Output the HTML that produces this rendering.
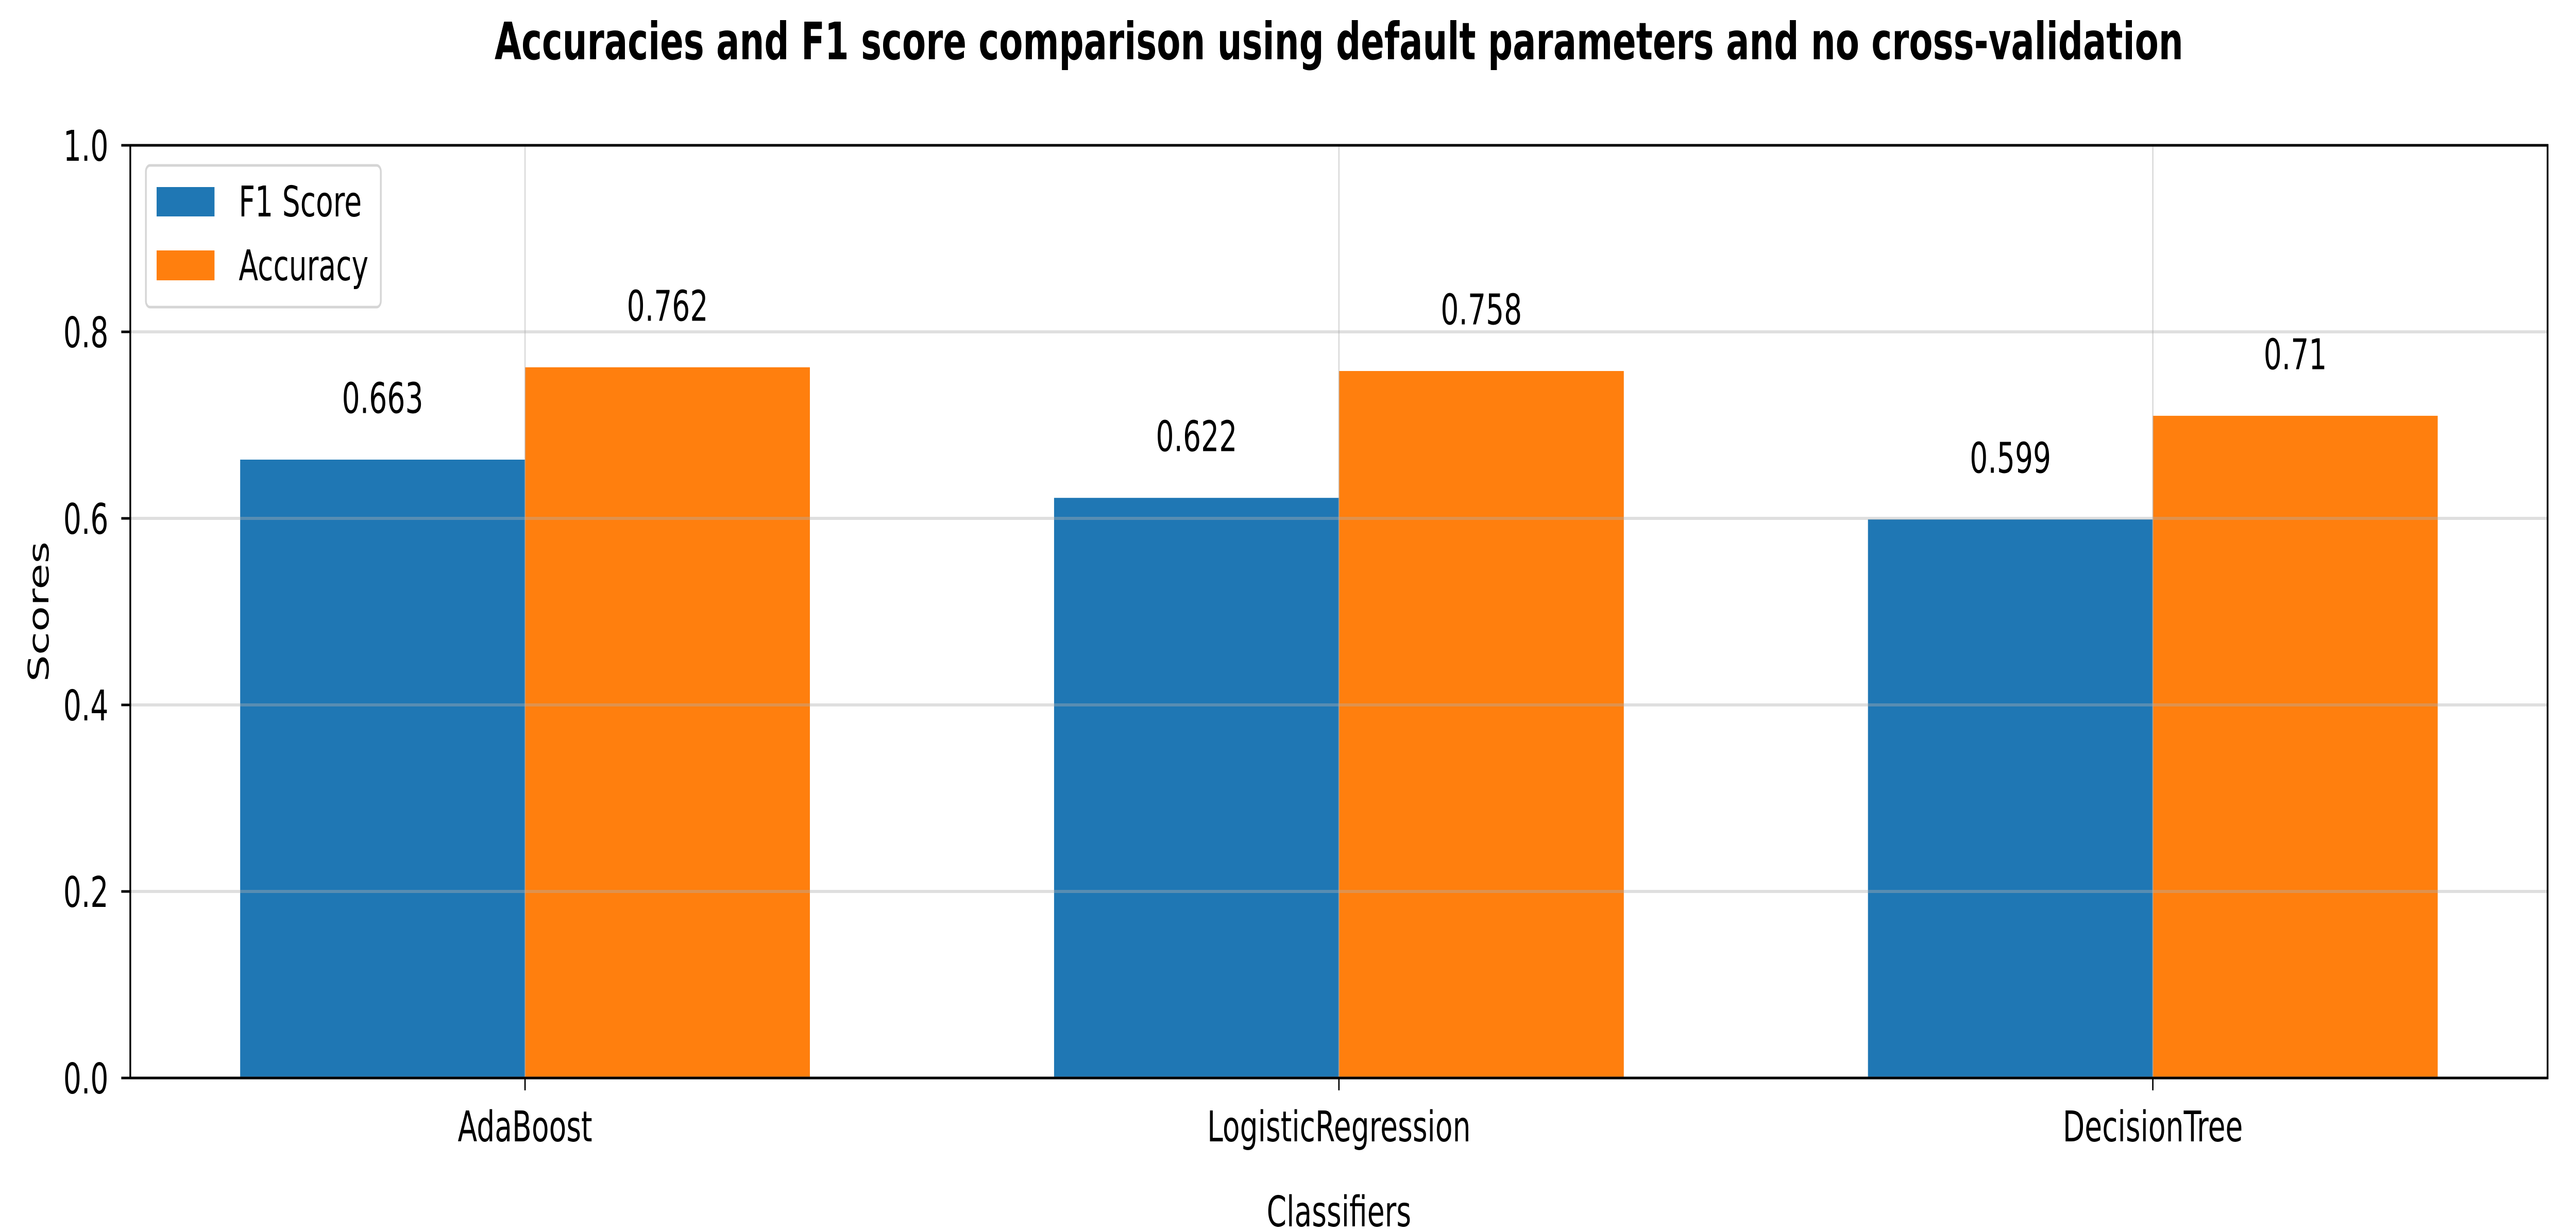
<!DOCTYPE html>
<html><head><meta charset="utf-8"><style>
html,body{margin:0;padding:0;background:#fff;width:100%;height:100%;overflow:hidden;}
svg{display:block;width:100vw;height:100vh;font-family:"DejaVu Sans","Liberation Sans",sans-serif;}
</style></head><body>
<svg id="chart" viewBox="0 0 7434 2387" preserveAspectRatio="none" xmlns="http://www.w3.org/2000/svg">
<rect width="7434" height="2387" fill="#fff"/>
<text x="3864" y="115" text-anchor="middle" font-size="100" font-weight="bold">Accuracies and F1 score comparison using default parameters and no cross-validation</text>
<g id="bars"></g>
<g id="grid"></g>
<g id="labels"></g>
<g id="axes"></g>
<text transform="translate(140,1187) rotate(-90)" text-anchor="middle" font-size="82">Scores</text>
<text x="3864" y="2380" text-anchor="middle" font-size="82">Classifiers</text>
<g>
<rect x="421" y="321" width="678" height="275" rx="12" fill="#fff" fill-opacity="0.8" stroke="#d5d5d5" stroke-width="5"/>
<rect x="452" y="363" width="167" height="57" fill="#1f77b4"/>
<text x="689" y="420" font-size="82">F1 Score</text>
<rect x="452" y="486" width="167" height="58" fill="#ff7f0e"/>
<text x="689" y="544" font-size="82">Accuracy</text>
</g>
</svg>
<script>
const categories = ["AdaBoost", "LogisticRegression", "DecisionTree"];
const f1Scores = [0.663, 0.622, 0.599];
const accuracies = [0.762, 0.758, 0.71];
const f1Labels = ["0.663", "0.622", "0.599"];
const accLabels = ["0.762", "0.758", "0.71"];
const yTicks = [0.0, 0.2, 0.4, 0.6, 0.8, 1.0];
const yTickLabels = ["0.0", "0.2", "0.4", "0.6", "0.8", "1.0"];

const NS = "http://www.w3.org/2000/svg";
const L = 376, R = 7352, T = 282, B = 2092;
const xMin = -0.485, xMax = categories.length - 1 + 0.485;
const barW = 0.35;
function xs(v){ return L + (v - xMin) / (xMax - xMin) * (R - L); }
function ys(v){ return B - v * (B - T); }
function mk(tag, attrs, parent){ const e = document.createElementNS(NS, tag); for (const k in attrs) e.setAttribute(k, attrs[k]); parent.appendChild(e); return e; }

const gBars = document.getElementById('bars');
const gGrid = document.getElementById('grid');
const gLab = document.getElementById('labels');
const gAx = document.getElementById('axes');

categories.forEach((c, i) => {
  const b1 = mk('rect', {x: xs(i - barW), y: ys(f1Scores[i]), width: xs(i) - xs(i - barW), height: ys(0) - ys(f1Scores[i]), fill: '#1f77b4'}, gBars);
  
  
  const b2 = mk('rect', {x: xs(i), y: ys(accuracies[i]), width: xs(i + barW) - xs(i), height: ys(0) - ys(accuracies[i]), fill: '#ff7f0e'}, gBars);
  
  
  const t1 = mk('text', {x: xs(i - barW / 2), y: ys(f1Scores[i] + 0.05), 'text-anchor': 'middle', 'font-size': 82}, gLab);
  t1.textContent = f1Labels[i];
  
  
  const t2 = mk('text', {x: xs(i + barW / 2), y: ys(accuracies[i] + 0.05), 'text-anchor': 'middle', 'font-size': 82}, gLab);
  t2.textContent = accLabels[i];
  
  
  const gl = mk('line', {x1: xs(i), x2: xs(i), y1: T, y2: B, stroke: '#b0b0b0', 'stroke-opacity': 0.45, 'stroke-width': 4}, gGrid);
  
  
  const tk = mk('line', {x1: xs(i), x2: xs(i), y1: B, y2: B + 24, stroke: '#000', 'stroke-width': 4}, gAx);
  
  
  const tl = mk('text', {x: xs(i), y: 2215, 'text-anchor': 'middle', 'font-size': 82}, gAx);
  tl.textContent = c;
  
  
});

yTicks.forEach((v, j) => {
  const gl = mk('line', {x1: L, x2: R, y1: ys(v), y2: ys(v), stroke: '#b0b0b0', 'stroke-opacity': 0.4, 'stroke-width': 6}, gGrid);
  
  
  const tk = mk('line', {x1: L - 26, x2: L, y1: ys(v), y2: ys(v), stroke: '#000', 'stroke-width': 5}, gAx);
  
  
  const tl = mk('text', {x: 313, y: ys(v) + 30, 'text-anchor': 'end', 'font-size': 82}, gAx);
  tl.textContent = yTickLabels[j];
  
  
});

const frame = mk('rect', {x: L, y: T, width: R - L, height: B - T, fill: 'none', stroke: '#000', 'stroke-width': 5}, gAx);


</script>
</body></html>
